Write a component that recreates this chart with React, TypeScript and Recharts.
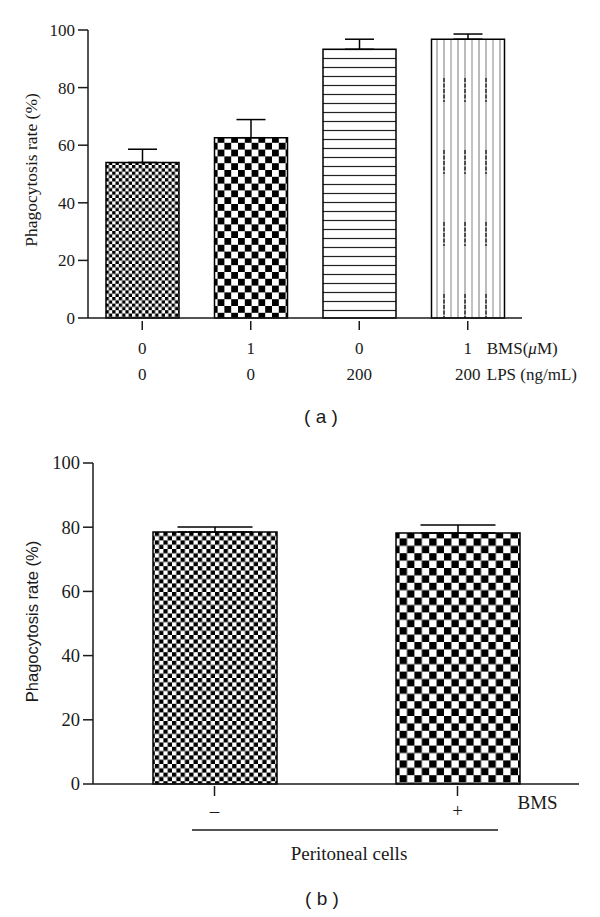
import React from 'react';
import { BarChart, Bar, XAxis, YAxis, Cell, ErrorBar } from 'recharts';

// panel (a)
const groupsA = ['g1', 'g2', 'g3', 'g4'];
const bmsDoseA = ['0', '1', '0', '1'];
const lpsDoseA = ['0', '0', '200', '200'];
const rateA = [54, 62.6, 93.3, 96.8];
const errA = [4.6, 6.3, 3.5, 1.8];
const rowUnitsA = ['BMS(', 'μ', 'M)', 'LPS (ng/mL)'];

// panel (b)
const bmsB = ['–', '+'];
const rateB = [78.5, 78.2];
const errB = [1.6, 2.5];
const groupLabelB = 'Peritoneal cells';

const yTicks = [0, 20, 40, 60, 80, 100];
const yTitle = 'Phagocytosis rate (%)';

const SERIF = '"Liberation Serif", "Times New Roman", serif';
const SANS = '"Liberation Sans", Arial, sans-serif';
const INK = '#1a1a1a';

const patternsA = ['chkA1', 'chkA2', 'hlines', 'vlines'];
const patternsB = ['chkB1', 'chkB2'];

const dataA = groupsA.map((g, i) => ({ g, rate: rateA[i], err: [0, errA[i]] }));
const dataB = bmsB.map((b, i) => ({ bms: b, rate: rateB[i], err: [0, errB[i]] }));

const checker = (id: string, c: number) => (
  <pattern id={id} patternUnits="userSpaceOnUse" width={c * 2} height={c * 2}>
    <rect width={c * 2} height={c * 2} fill="#fff" />
    <rect width={c} height={c} fill="#000" />
    <rect x={c} y={c} width={c} height={c} fill="#000" />
  </pattern>
);

const Defs = () => (
  <defs>
    {checker('chkA1', 3.3)}
    {checker('chkA2', 6.8)}
    {checker('chkB1', 4.3)}
    {checker('chkB2', 7.4)}
    <pattern id="hlines" patternUnits="userSpaceOnUse" width={10} height={9}>
      <rect width={10} height={9} fill="#fff" />
      <line x1={0} x2={10} y1={4.5} y2={4.5} stroke="#222" strokeWidth={1.2} />
    </pattern>
    <pattern id="vlines" patternUnits="userSpaceOnUse" width={21} height={72}>
      <rect width={21} height={72} fill="#fff" />
      <line x1={3} x2={3} y1={0} y2={72} stroke="#777" strokeWidth={1} />
      <line x1={10} x2={10} y1={0} y2={72} stroke="#888" strokeWidth={1} />
      <line x1={17} x2={17} y1={0} y2={72} stroke="#777" strokeWidth={1} />
      <line x1={3} x2={3} y1={6} y2={30} stroke="#222" strokeWidth={1.4} strokeDasharray="4 1.5" />
    </pattern>
  </defs>
);

const serifStyle = (size: number) => ({ fontFamily: SERIF, fontSize: size, fill: INK });

const YTickA = (props: any) => {
  const { x, y, payload } = props;
  return (
    <text x={x} y={y} dy="0.35em" textAnchor="end" style={serifStyle(17)}>{payload.value}</text>
  );
};

const YTickB = (props: any) => {
  const { x, y, payload } = props;
  return (
    <text x={x} y={y} dy="0.35em" textAnchor="end" style={serifStyle(18.5)}>{payload.value}</text>
  );
};

const TickA = (props: any) => {
  const { x, y, index } = props;
  const last = index === groupsA.length - 1;
  const ts = serifStyle(17);
  return (
    <g>
      <line x1={x} x2={x} y1={y + 3} y2={y + 12} stroke={INK} strokeWidth={1.5} />
      <text x={x} y={y + 30} dy="0.35em" textAnchor="middle" style={ts}>{bmsDoseA[index]}</text>
      <text x={x} y={y + 56} dy="0.35em" textAnchor="middle" style={ts}>{lpsDoseA[index]}</text>
      {last && (
        <>
          <text x={x + 19} y={y + 30} dy="0.35em" textAnchor="start" style={ts}>
            {rowUnitsA[0]}<tspan fontStyle="italic">{rowUnitsA[1]}</tspan>{rowUnitsA[2]}
          </text>
          <text x={x + 19} y={y + 56} dy="0.35em" textAnchor="start" style={ts}>{rowUnitsA[3]}</text>
        </>
      )}
    </g>
  );
};

const TickB = (props: any) => {
  const { x, y, payload, index } = props;
  const last = index === bmsB.length - 1;
  const ts = serifStyle(19);
  return (
    <g>
      <line x1={x} x2={x} y1={y + 2} y2={y + 12} stroke={INK} strokeWidth={1.5} />
      <text x={x} y={y + 26} dy="0.35em" textAnchor="middle" style={ts}>{payload.value}</text>
      {last && <text x={x + 60} y={y + 18} dy="0.35em" textAnchor="start" style={ts}>BMS</text>}
    </g>
  );
};

const YTitleA = (props: any) => {
  const vb = props.viewBox;
  const cx = 31;
  const cy = vb.y + vb.height / 2 - 4;
  return (
    <text x={cx} y={cy} transform={`rotate(-90 ${cx} ${cy})`} textAnchor="middle" dy="0.35em"
      style={serifStyle(17.5)}>{yTitle}</text>
  );
};

const YTitleB = (props: any) => {
  const vb = props.viewBox;
  const cx = 32;
  const cy = vb.y + vb.height / 2 - 2;
  return (
    <text x={cx} y={cy} transform={`rotate(-90 ${cx} ${cy})`} textAnchor="middle" dy="0.35em"
      style={{ fontFamily: SANS, fontSize: 16.5, fill: INK }}>{yTitle}</text>
  );
};

const GroupB = (props: any) => {
  const y = props.viewBox.y;
  return (
    <g>
      <line x1={192} x2={498} y1={y + 46} y2={y + 46} stroke={INK} strokeWidth={1.5} />
      <text x={349} y={y + 69} dy="0.35em" textAnchor="middle" style={serifStyle(19)}>
        {groupLabelB}
      </text>
    </g>
  );
};

const axisStroke = { stroke: INK, strokeWidth: 1.5 };

export default function App() {
  return (
    <div style={{ position: 'absolute', left: 0, top: 0, width: 600, height: 917, background: '#fff' }}>
      <div style={{ position: 'absolute', left: 0, top: 0 }}>
        <BarChart width={600} height={400} data={dataA} margin={{ top: 30, right: 78, left: 0, bottom: 0 }}>
          <Defs />
          <XAxis dataKey="g" height={82} interval={0} tickSize={0} tickMargin={0} tickLine={false}
            axisLine={axisStroke} tick={<TickA />} />
          <YAxis width={88} domain={[0, 100]} ticks={yTicks} interval={0} tickSize={10} tickMargin={3}
            axisLine={axisStroke} tickLine={axisStroke} tick={<YTickA />}
            label={{ content: (p: any) => <YTitleA {...p} /> }} />
          <Bar dataKey="rate" barSize={73} stroke="#000" strokeWidth={1.5} isAnimationActive={false}>
            {dataA.map((d, i) => <Cell key={d.g} fill={`url(#${patternsA[i]})`} />)}
            <ErrorBar dataKey="err" width={14.5} stroke="#000" strokeWidth={1.5} direction="y" isAnimationActive={false} />
          </Bar>
        </BarChart>
      </div>
      <div style={{ position: 'absolute', left: 0, top: 406, width: 600, textAlign: 'center', paddingLeft: 42, boxSizing: 'border-box', fontFamily: SANS, fontSize: 19, color: INK }}>
        ( a )
      </div>
      <div style={{ position: 'absolute', left: 0, top: 420 }}>
        <BarChart width={600} height={460} data={dataB} margin={{ top: 43, right: 21, left: 0, bottom: 0 }}>
          <Defs />
          <XAxis dataKey="bms" height={96} interval={0} tickSize={0} tickMargin={0} tickLine={false}
            axisLine={axisStroke} tick={<TickB />}
            label={{ content: (p: any) => <GroupB {...p} /> }} />
          <YAxis width={93} domain={[0, 100]} ticks={yTicks} interval={0} tickSize={10} tickMargin={3}
            axisLine={axisStroke} tickLine={axisStroke} tick={<YTickB />}
            label={{ content: (p: any) => <YTitleB {...p} /> }} />
          <Bar dataKey="rate" barSize={124} stroke="#000" strokeWidth={1.5} isAnimationActive={false}>
            {dataB.map((d, i) => <Cell key={d.bms} fill={`url(#${patternsB[i]})`} />)}
            <ErrorBar dataKey="err" width={37.5} stroke="#000" strokeWidth={1.5} direction="y" isAnimationActive={false} />
          </Bar>
        </BarChart>
      </div>
      <div style={{ position: 'absolute', left: 0, top: 888, width: 600, textAlign: 'center', paddingLeft: 44, boxSizing: 'border-box', fontFamily: SANS, fontSize: 19, color: INK }}>
        ( b )
      </div>
    </div>
  );
}
